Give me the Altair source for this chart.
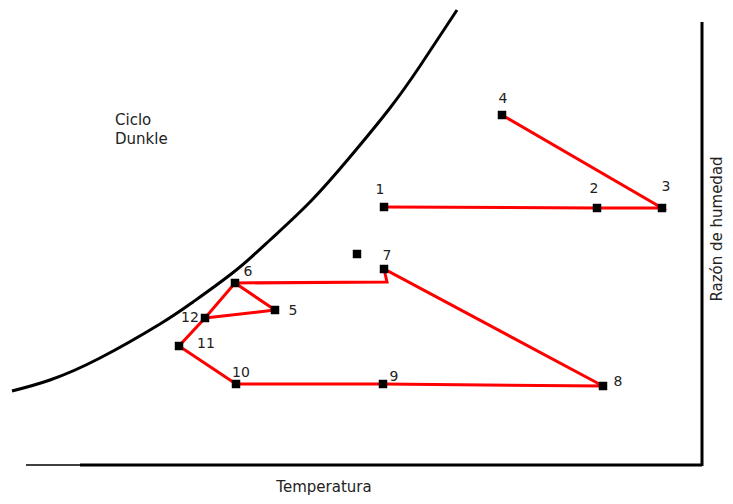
import altair as alt
import pandas as pd

# Arbitrary units (temperature, humidity ratio)
point_ids = ["1", "2", "3", "4", "5", "6", "7", "8", "9", "10", "11", "12"]
point_t = [37.6, 58.9, 65.4, 49.4, 26.7, 22.7, 37.6, 59.5, 37.5, 22.8, 17.1, 19.7]
point_h = [28.9, 28.8, 28.8, 38.1, 18.6, 21.3, 22.7, 11.0, 11.2, 11.2, 15.0, 17.8]

label_t = [37.2, 58.6, 65.8, 49.5, 28.5, 24.0, 37.9, 61.0, 38.6, 23.3, 19.8, 18.2]
label_h = [30.6, 30.7, 30.9, 39.7, 18.5, 22.4, 24.0, 11.4, 11.9, 12.3, 15.2, 17.8]

extra_t = [34.9]
extra_h = [24.2]

# Path A: 1 -> 2 -> 3 -> 4
path_a_t = [37.6, 58.9, 65.4, 49.4]
path_a_h = [28.9, 28.8, 28.8, 38.1]
# Path B: 6 -> corner -> 7 -> 8 -> 9 -> 10 -> 11 -> 12 -> 6 -> 5 -> 12
path_b_t = [22.7, 37.9, 37.6, 59.5, 37.5, 22.8, 17.1, 19.7, 22.7, 26.7, 19.7]
path_b_h = [21.3, 21.4, 22.7, 11.0, 11.2, 11.2, 15.0, 17.8, 21.3, 18.6, 17.8]

# Saturation curve
curve_t = [0.4, 4.2, 9.2, 15.2, 18.5, 22.7, 26.2, 30.2, 34.2, 38.2, 41.2, 44.9]
curve_h = [10.5, 11.6, 13.8, 17.2, 19.4, 22.5, 25.6, 29.4, 33.9, 38.8, 43.0, 48.6]

# Frame lines (bottom thin, bottom thick, right)
frame_t1 = [1.8, 7.2, 69.4]
frame_t2 = [7.2, 69.4, 69.4]
frame_h1 = [3.1, 3.1, 3.0]
frame_h2 = [3.1, 3.1, 47.4]
frame_w = [1.5, 3.0, 3.0]

texts = ["Ciclo", "Dunkle"]
text_t = [10.7, 10.7]
text_h = [37.6, 35.7]

xs = alt.Scale(domain=[0, 71.7], nice=False, zero=False)
ys = alt.Scale(domain=[0, 48.8], nice=False, zero=False)
X = lambda f: alt.X(f, type="quantitative", scale=xs, axis=None)
Y = lambda f: alt.Y(f, type="quantitative", scale=ys, axis=None)

df_pts = pd.DataFrame({"t": point_t, "h": point_h, "id": point_ids})
df_lbl = pd.DataFrame({"t": label_t, "h": label_h, "id": point_ids})
df_extra = pd.DataFrame({"t": extra_t, "h": extra_h})
df_a = pd.DataFrame({"t": path_a_t, "h": path_a_h, "o": list(range(len(path_a_t)))})
df_b = pd.DataFrame({"t": path_b_t, "h": path_b_h, "o": list(range(len(path_b_t)))})
df_c = pd.DataFrame({"t": curve_t, "h": curve_h})
df_f = pd.DataFrame({"t1": frame_t1, "t2": frame_t2, "h1": frame_h1, "h2": frame_h2, "w": frame_w})
df_txt = pd.DataFrame({"t": text_t, "h": text_h, "s": texts})
df_titles = pd.DataFrame({"t": [31.6], "h": [0.9], "s": ["Temperatura"]})
df_ytitle = pd.DataFrame({"t": [70.9], "h": [26.7], "s": ["Razón de humedad"]})

frame = alt.Chart(df_f).mark_rule(color="black").encode(
    x=X("t1"), x2="t2", y=Y("h1"), y2="h2",
    strokeWidth=alt.StrokeWidth("w:Q", scale=None, legend=None))

curve = alt.Chart(df_c).mark_line(color="black", strokeWidth=3, interpolate="natural").encode(
    x=X("t"), y=Y("h"))

line_a = alt.Chart(df_a).mark_line(color="#ff0000", strokeWidth=3).encode(
    x=X("t"), y=Y("h"), order="o:Q")
line_b = alt.Chart(df_b).mark_line(color="#ff0000", strokeWidth=3).encode(
    x=X("t"), y=Y("h"), order="o:Q")

pts = alt.Chart(df_pts).mark_point(shape="square", filled=True, color="black", size=72, opacity=1).encode(
    x=X("t"), y=Y("h"))
extra = alt.Chart(df_extra).mark_point(shape="square", filled=True, color="black", size=72, opacity=1).encode(
    x=X("t"), y=Y("h"))

lbls = alt.Chart(df_lbl).mark_text(font="DejaVu Sans", fontSize=14, color="#222222").encode(
    x=X("t"), y=Y("h"), text="id:N")

txt = alt.Chart(df_txt).mark_text(font="DejaVu Sans", fontSize=15, color="#222222", align="left").encode(
    x=X("t"), y=Y("h"), text="s:N")

xtitle = alt.Chart(df_titles).mark_text(font="DejaVu Sans", fontSize=15, color="#222222").encode(
    x=X("t"), y=Y("h"), text="s:N")

ytitle = alt.Chart(df_ytitle).mark_text(font="DejaVu Sans", fontSize=15, color="#222222", angle=270).encode(
    x=X("t"), y=Y("h"), text="s:N")

chart = alt.layer(frame, curve, line_a, line_b, pts, extra, lbls, txt, xtitle, ytitle).properties(
    width=717, height=488, padding=0, autosize=alt.AutoSizeParams(type="none")
).configure_view(stroke=None)

chart.save("out.html", embed_options={"renderer": "svg", "actions": False})
